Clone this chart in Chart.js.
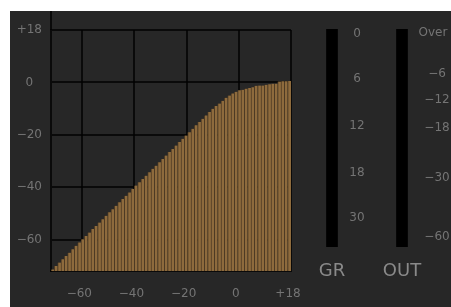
<!DOCTYPE html>
<html>
<head>
<meta charset="utf-8">
<script src="https://cdn.jsdelivr.net/npm/chart.js@4.4.1/dist/chart.umd.min.js"></script>
<style>
  body { margin: 0; background: #fff; width: 451px; height: 307px; overflow: hidden; }
  #panel { position: absolute; left: 10px; top: 11px; width: 441px; height: 296px; background: #272727; overflow: hidden; }
  #curve { position: absolute; left: 0; top: 0; }
  #meters { position: absolute; left: 287px; top: 0; }
</style>
</head>
<body>
<div id="panel">
  <canvas id="curve" width="300" height="296"></canvas>
  <canvas id="meters" width="154" height="296"></canvas>
</div>
<script>
// transfer curve: input level (dB) per bar and output level (dB)
var inputLevels = [
  -71.4, -70.1, -68.8, -67.5, -66.3, -65.0, -63.7, -62.4, -61.1, -59.9,
  -58.6, -57.3, -56.0, -54.8, -53.5, -52.2, -50.9, -49.6, -48.4, -47.1,
  -45.8, -44.5, -43.3, -42.0, -40.7, -39.4, -38.1, -36.9, -35.6, -34.3,
  -33.0, -31.8, -30.5, -29.2, -27.9, -26.6, -25.4, -24.1, -22.8, -21.5,
  -20.3, -19.0, -17.7, -16.4, -15.1, -13.9, -12.6, -11.3, -10.0, -8.8,
  -7.5, -6.2, -4.9, -3.6, -2.4, -1.1, 0.2, 1.5, 2.8, 4.0,
  5.3, 6.6, 7.9, 9.1, 10.4, 11.7, 13.0, 14.3, 15.5, 16.8,
  18.1, 19.4
];
var outputLevels = [
  -71.4, -70.1, -68.8, -67.5, -66.3, -65.0, -63.7, -62.4, -61.1, -59.9,
  -58.6, -57.3, -56.0, -54.8, -53.5, -52.2, -50.9, -49.6, -48.4, -47.1,
  -45.8, -44.5, -43.3, -42.0, -40.7, -39.4, -38.1, -36.9, -35.6, -34.3,
  -33.0, -31.8, -30.5, -29.2, -27.9, -26.6, -25.4, -24.1, -22.8, -21.5,
  -20.3, -19.0, -17.7, -16.4, -15.1, -13.9, -12.6, -11.3, -10.1, -9.0,
  -8.1, -7.0, -5.9, -5.0, -4.2, -3.6, -3.0, -2.8, -2.4, -2.1,
  -1.9, -1.3, -1.2, -1.2, -0.9, -0.7, -0.5, -0.5, 0.3, 0.4,
  0.4, 0.5
];
var dbMin = -72;
var dbMax = 20;
var xTicks = [-60, -40, -20, 0, 20];
var xTickLabels = ["\u221260", "\u221240", "\u221220", "0", "+18"];
var yTicks = [-60, -40, -20, 0, 20];
var yTickLabels = ["\u221260", "\u221240", "\u221220", "0", "+18"];

// meters (empty)
var meterNames = ["GR", "OUT"];
var meterFull = [1, 1];
var grLabels = ["0", "6", "12", "18", "30"];
var outLabels = ["Over", "\u22126", "\u221212", "\u221218", "\u221230", "\u221260"];

var labelColor = "#747474";
var labelFont = { family: "DejaVu Sans", size: 12 };
var gridColor = "rgba(0,0,0,0.72)";

//left axis line runs up past the grid to the panel top
var axisExtend = {
  id: "axisExtend",
  afterDraw: function (chart) {
    var ctx = chart.ctx;
    var a = chart.chartArea;
    ctx.save();
    ctx.strokeStyle = gridColor;
    ctx.lineWidth = 2;
    ctx.beginPath();
    ctx.moveTo(a.left, 0);
    ctx.lineTo(a.left, a.top);
    ctx.stroke();
    ctx.restore();
  }
};

new Chart(document.getElementById("curve"), {
  type: "bar",
  data: {
    labels: inputLevels,
    datasets: [{
      data: outputLevels.map(function (v) { return [dbMin, v]; }),
      xAxisID: "xb",
      yAxisID: "y",
      backgroundColor: "#8e6b3d",
      borderColor: "#4d3a23",
      borderWidth: { left: 1, right: 0, top: 0, bottom: 0 },
      barPercentage: 1,
      categoryPercentage: 1
    }]
  },
  options: {
    responsive: false,
    animation: false,
    layout: { padding: { left: 0, right: 19, top: 19, bottom: 0 } },
    plugins: { legend: { display: false }, tooltip: { enabled: false } },
    scales: {
      xb: { type: "category", display: false, offset: true },
      x: {
        type: "linear",
        position: "bottom",
        min: dbMin,
        max: dbMax,
        offset: false,
        z: 1,
        afterBuildTicks: function (s) { s.ticks = xTicks.map(function (v) { return { value: v }; }); },
        afterFit: function (s) { s.height = 36; s.paddingLeft = 0; s.paddingRight = 0; },
        grid: { color: gridColor, lineWidth: 2, drawTicks: false, offset: false },
        border: { display: true, color: gridColor, width: 2 },
        ticks: {
          color: labelColor,
          font: labelFont,
          padding: 16,
          labelOffset: -3,
          maxRotation: 0,
          autoSkip: false,
          callback: function (v, i) { return xTickLabels[i]; }
        }
      },
      y: {
        type: "linear",
        min: dbMin,
        max: dbMax,
        z: 1,
        afterBuildTicks: function (s) { s.ticks = yTicks.map(function (v) { return { value: v }; }); },
        afterFit: function (s) { s.width = 41; s.paddingTop = 0; s.paddingBottom = 0; },
        grid: { color: gridColor, lineWidth: 2, drawTicks: false },
        border: { display: true, color: gridColor, width: 2 },
        ticks: {
          color: labelColor,
          font: labelFont,
          padding: 9,
          crossAlign: "center",
          autoSkip: false,
          callback: function (v, i) { return yTickLabels[i]; }
        }
      }
    }
  },
  plugins: [axisExtend]
});

// meter scale text, y in canvas px
var grLabelY = [23, 68, 115, 162, 207];
var outLabelY = [22, 63, 89, 117, 167, 226];
var meterText = {
  id: "meterText",
  afterDraw: function (chart) {
    var ctx = chart.ctx;
    ctx.save();
    ctx.fillStyle = labelColor;
    ctx.font = "12px 'DejaVu Sans'";
    ctx.textAlign = "center";
    ctx.textBaseline = "middle";
    for (var i = 0; i < grLabels.length; i++) {
      ctx.fillText(grLabels[i], 60, grLabelY[i]);
    }
    ctx.fillText(outLabels[0], 136, outLabelY[0]);
    for (var j = 1; j < outLabels.length; j++) {
      ctx.fillText(outLabels[j], 140, outLabelY[j]);
    }
    ctx.restore();
  }
};

new Chart(document.getElementById("meters"), {
  type: "bar",
  data: {
    labels: meterNames,
    datasets: [{
      data: meterFull,
      backgroundColor: "#000",
      barThickness: 11
    }]
  },
  options: {
    responsive: false,
    animation: false,
    layout: { padding: { left: 0, right: 14, top: 18, bottom: 0 } },
    plugins: { legend: { display: false }, tooltip: { enabled: false } },
    scales: {
      x: {
        offset: true,
        afterFit: function (s) { s.height = 60; },
        grid: { display: false },
        border: { display: false },
        ticks: { color: "#8a8a8a", font: { family: "DejaVu Sans", size: 18 }, padding: 6 }
      },
      y: { display: false, min: 0, max: 1 }
    }
  },
  plugins: [meterText]
});
</script>
</body>
</html>
